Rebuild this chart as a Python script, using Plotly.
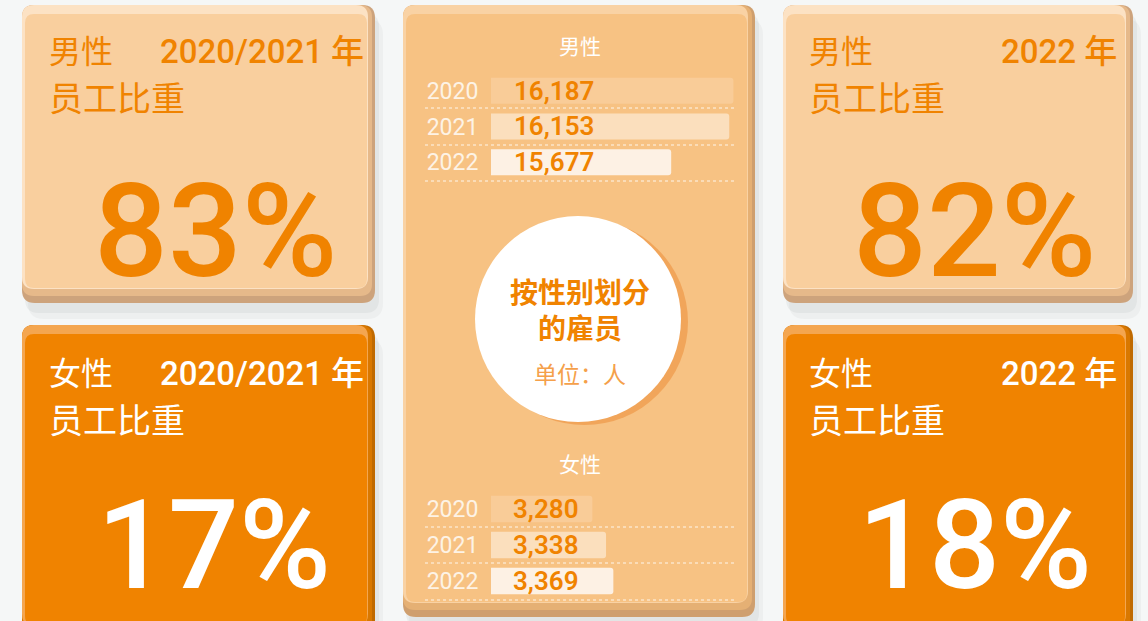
import plotly.graph_objects as go

# ---------------- data ----------------
years = ["2020", "2021", "2022"]
male_counts = [16187, 16153, 15677]
female_counts = [3280, 3338, 3369]
male_share_2021 = 83
female_share_2021 = 17
male_share_2022 = 82
female_share_2022 = 18
bar_colors = ["#f9cc98", "#fbdfbd", "#fdf1e4"]

W, H = 1148, 621
ORANGE = "#f08300"
FONT = "Roboto, 'Noto Sans CJK SC', sans-serif"
CJK = "'Noto Sans CJK SC', Roboto, sans-serif"

row_idx = list(range(len(years)))

fig = go.Figure()

# invisible anchor trace for the pixel-coordinate axes
fig.add_trace(go.Scatter(x=[0, W], y=[0, H], mode="markers",
                         marker=dict(opacity=0), hoverinfo="skip",
                         showlegend=False, xaxis="x", yaxis="y"))

shapes = []


def rr(x0, y0, x1, y1, r):
    return (f"M{x0+r},{y0} L{x1-r},{y0} Q{x1},{y0} {x1},{y0+r} "
            f"L{x1},{y1-r} Q{x1},{y1} {x1-r},{y1} L{x0+r},{y1} "
            f"Q{x0},{y1} {x0},{y1-r} L{x0},{y0+r} Q{x0},{y0} {x0+r},{y0} Z")


def add_shape_path(path, fill):
    shapes.append(dict(type="path", path=path, xref="x", yref="y",
                       fillcolor=fill, line=dict(width=0), layer="below"))


def card(x0, y0, x1, y1, face, light, mid, dark):
    # soft shadow
    add_shape_path(rr(x0 + 6, y0 + 14, x1 + 8, y1 + 16, 16), "rgba(90,100,100,0.05)")
    add_shape_path(rr(x0 + 3, y0 + 8, x1 + 4, y1 + 10, 14), "rgba(90,100,100,0.07)")
    # body layers (bevel imitation)
    add_shape_path(rr(x0, y0, x1, y1, 13), dark)
    add_shape_path(rr(x0, y0, x1 - 3, y1 - 7, 12), mid)
    add_shape_path(rr(x0, y0, x1 - 7, y1 - 14, 12), light)
    add_shape_path(rr(x0 + 3, y0 + 9, x1 - 8, y1 - 15, 9), face)


# cards
card(22, 5, 375, 303, "#f9cf9e", "#fce2c4", "#e6b98a", "#cda37c")
card(783, 5, 1133, 303, "#f9cf9e", "#fce2c4", "#e6b98a", "#cda37c")
card(22, 325, 375, 640, ORANGE, "#f4a650", "#d97800", "#c06a00")
card(783, 325, 1133, 640, ORANGE, "#f4a650", "#d97800", "#c06a00")
card(403, 5, 755, 617, "#f7c283", "#f9d2a4", "#e5b074", "#cf9f6e")

# circle in the centre card
shapes.append(dict(type="circle", xref="x", yref="y", x0=481, y0=219, x1=688, y1=425,
                   fillcolor="#f1a55a", line=dict(width=0), layer="below"))
shapes.append(dict(type="circle", xref="x", yref="y", x0=475, y0=216, x1=681, y1=422,
                   fillcolor="#ffffff", line=dict(width=0), layer="below"))

# dotted row separators
for yy in [108, 145, 181, 527, 563, 600]:
    shapes.append(dict(type="line", xref="x", yref="y", x0=425, x1=735, y0=yy, y1=yy,
                       line=dict(color="rgba(255,255,255,0.85)", width=1, dash="dot"),
                       layer="above"))

# ---------------- bars ----------------
fig.add_trace(go.Bar(y=row_idx, x=male_counts, orientation="h",
                     marker=dict(color=bar_colors, cornerradius=3, line=dict(width=0)),
                     width=0.73, xaxis="x2", yaxis="y2", showlegend=False,
                     hoverinfo="skip"))
fig.add_trace(go.Bar(y=row_idx, x=female_counts, orientation="h",
                     marker=dict(color=bar_colors, cornerradius=3, line=dict(width=0)),
                     width=0.73, xaxis="x3", yaxis="y3", showlegend=False,
                     hoverinfo="skip"))

annotations = []
for i, v in zip(row_idx, male_counts):
    annotations.append(dict(x=0.086, xref="x2 domain", y=i, yref="y2",
                            text=f"{v:,}", showarrow=False, xanchor="left",
                            yanchor="middle",
                            font=dict(family=FONT, size=26, color=ORANGE, weight=600)))
for i, v in zip(row_idx, female_counts):
    annotations.append(dict(x=0.082, xref="x3 domain", y=i, yref="y3",
                            text=f"{v:,}", showarrow=False, xanchor="left",
                            yanchor="middle",
                            font=dict(family=FONT, size=26, color=ORANGE, weight=600)))


def txt(x, y, s, size, color, xanchor="left", weight=400, family=FONT):
    annotations.append(dict(x=x, y=y, xref="x", yref="y", text=s, showarrow=False,
                            xanchor=xanchor, yanchor="middle",
                            font=dict(family=family, size=size, color=color,
                                      weight=weight)))


# headers of cards
for (xl, xr, yt, col, sex, period) in [
    (47, 366, 49, ORANGE, "男性", "2020/2021 年"),
    (47, 366, 371, "#ffffff", "女性", "2020/2021 年"),
    (807, 1119, 49, ORANGE, "男性", "2022 年"),
    (807, 1119, 371, "#ffffff", "女性", "2022 年"),
]:
    txt(xl, yt, sex, 32, col, weight=400, family=CJK)
    txt(xr, yt + 2, period, 33, col, xanchor="right", weight=500)
    txt(xl, yt + 47, "员工比重", 34, col, weight=400, family=CJK)

# big percentages
txt(216, 231, f"{male_share_2021}%", 130, ORANGE, xanchor="center", weight=500)
txt(214, 545, f"{female_share_2021}%", 125, "#ffffff", xanchor="center", weight=500)
txt(975, 231, f"{male_share_2022}%", 130, ORANGE, xanchor="center", weight=500)
txt(975, 545, f"{female_share_2022}%", 125, "#ffffff", xanchor="center", weight=500)

# centre card texts
txt(580, 45, "男性", 21, "#ffffff", xanchor="center", family=CJK)
txt(580, 463, "女性", 21, "#ffffff", xanchor="center", family=CJK)
txt(580, 309, "按性别划分<br>的雇员", 28, ORANGE, xanchor="center", weight=600, family=CJK)
txt(580, 373, "单位：人", 23, "#f5a04a", xanchor="center", family=CJK)

tickfont = dict(family=FONT, size=23, color="#fdf3e6")
common_y = dict(showgrid=False, zeroline=False, showline=False, automargin=False,
                tickmode="array", tickvals=row_idx, ticktext=years,
                range=[len(years) - 0.5, -0.5],
                ticks="outside", ticklen=7, tickcolor="rgba(0,0,0,0)",
                tickfont=tickfont, fixedrange=True)
fig.update_layout(
    template="none",
    width=W, height=H, autosize=False,
    margin=dict(l=0, r=0, t=0, b=0, pad=0),
    paper_bgcolor="#f5f7f7", plot_bgcolor="rgba(0,0,0,0)",
    shapes=shapes, annotations=annotations,
    xaxis=dict(range=[0, W], domain=[0, 1], visible=False, fixedrange=True,
               automargin=False),
    yaxis=dict(range=[H, 0], domain=[0, 1], visible=False, fixedrange=True,
               automargin=False),
    xaxis2=dict(domain=[491 / W, 735 / W], range=[14200, 16200], anchor="y2",
                visible=False, automargin=False, fixedrange=True),
    yaxis2=dict(domain=[1 - 180 / H, 1 - 73 / H], anchor="x2", **common_y),
    xaxis3=dict(domain=[491 / W, 735 / W], range=[2850, 3885], anchor="y3",
                visible=False, automargin=False, fixedrange=True),
    yaxis3=dict(domain=[1 - 599 / H, 1 - 491 / H], anchor="x3", **common_y),
    showlegend=False,
)

fig.write_html("out.html", config={"displayModeBar": False},
               post_script="document.body.style.margin='0px';document.body.style.overflow='hidden';")
